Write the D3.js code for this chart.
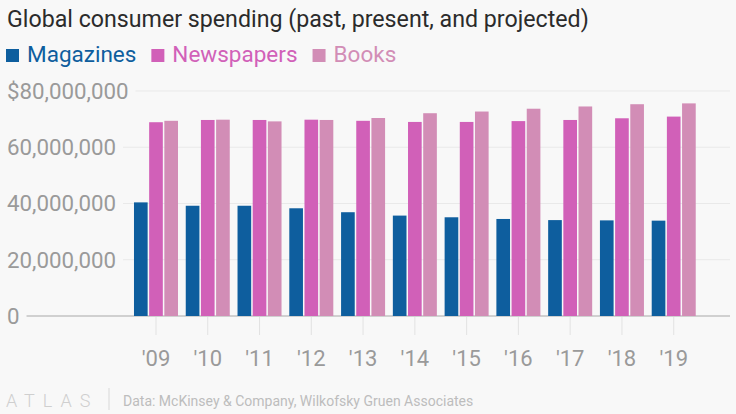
<!DOCTYPE html>
<html>
<head>
<meta charset="utf-8">
<script src="https://cdn.jsdelivr.net/npm/d3@7"></script>
<style>
  body { margin: 0; background: #f8f8f8; }
  svg { display: block; font-family: Roboto, "Liberation Sans", sans-serif; }
</style>
</head>
<body>
<div id="chart"></div>
<script>
// dados (milhões de dólares)
const years = ["'09", "'10", "'11", "'12", "'13", "'14", "'15", "'16", "'17", "'18", "'19"];
const seriesNames = ["Magazines", "Newspapers", "Books"];
const magazines = [40.4, 39.2, 39.2, 38.3, 36.9, 35.7, 35.1, 34.5, 34.1, 34.0, 33.9];
const newspapers = [68.9, 69.7, 69.7, 69.8, 69.4, 69.0, 69.0, 69.3, 69.7, 70.3, 70.9];
const books = [69.4, 69.8, 69.2, 69.7, 70.4, 72.1, 72.7, 73.7, 74.5, 75.3, 75.6];
const yTicks = [0, 20000000, 40000000, 60000000, 80000000];
const yTickLabels = ["0", "20,000,000", "40,000,000", "60,000,000", "$80,000,000"];

const colors = ["#0e5e9e", "#d160b8", "#d28db6"];
const width = 736, height = 414;

const rows = years.map((yr, i) => ({
    year: yr,
    values: [magazines[i], newspapers[i], books[i]].map(v => v * 1e6)
}));

const svg = d3.select("#chart")
    .append("svg")
    .attr("width", width)
    .attr("height", height);

// Título
svg.append("text")
    .attr("x", 7)
    .attr("y", 27)
    .style("font-size", "23.2px")
    .attr("fill", "#2b2b2b")
    .text("Global consumer spending (past, present, and projected)");

// Legenda
let lx = 6;
seriesNames.forEach((name, i) => {
    svg.append("rect")
        .attr("x", lx).attr("y", 49)
        .attr("width", 13).attr("height", 13)
        .attr("fill", colors[i]);
    const t = svg.append("text")
        .attr("x", lx + 21)
        .attr("y", 62)
        .style("font-size", "22.5px")
        .attr("fill", colors[i])
        .text(name);
    lx += 21 + t.node().getComputedTextLength() + 15;
});

// Escalas
const x = d3.scaleBand()
    .domain(years)
    .range([130.1, 699.6])
    .paddingInner(0.15)
    .paddingOuter(0.075);

const xSub = d3.scaleBand()
    .domain(seriesNames)
    .range([0, x.bandwidth()])
    .paddingInner(0.1);

const y = d3.scaleLinear()
    .domain([0, 80000000])
    .range([316, 91]);

// Grade e rótulos do eixo Y
yTicks.forEach((v, i) => {
    const lbl = svg.append("text")
        .attr("x", 7)
        .attr("y", y(v))
        .attr("dy", "0.35em")
        .style("font-size", "22.3px")
        .attr("fill", "#9a9a9a")
        .text(yTickLabels[i]);
    const w = lbl.node().getComputedTextLength();
    svg.insert("line", "text")
        .attr("x1", 7 + w + 7)
        .attr("x2", 730)
        .attr("y1", y(v)).attr("y2", y(v))
        .attr("stroke", v === 0 ? "#a8a8a8" : "#e9e9e9")
        .attr("stroke-width", v === 0 ? 1.2 : 1);
});

// Marcas do eixo X
svg.append("g")
    .selectAll("line")
    .data(years)
    .enter()
    .append("line")
    .attr("x1", d => x(d) + x.bandwidth() / 2)
    .attr("x2", d => x(d) + x.bandwidth() / 2)
    .attr("y1", 317).attr("y2", 335)
    .attr("stroke", "#e2e2e2");

svg.append("g")
    .selectAll("text")
    .data(years)
    .enter()
    .append("text")
    .attr("x", d => x(d) + x.bandwidth() / 2)
    .attr("y", 366)
    .attr("text-anchor", "middle")
    .style("font-size", "22px")
    .attr("fill", "#9a9a9a")
    .text(d => d);

// Barras
svg.append("g")
    .selectAll("g")
    .data(rows)
    .enter()
    .append("g")
    .attr("transform", d => `translate(${x(d.year)},0)`)
    .selectAll("rect")
    .data(d => d.values.map((v, i) => ({ name: seriesNames[i], value: v, i })))
    .enter()
    .append("rect")
    .attr("x", d => xSub(d.name))
    .attr("y", d => y(d.value))
    .attr("width", xSub.bandwidth())
    .attr("height", d => y(0) - y(d.value))
    .attr("fill", d => colors[d.i]);

// Rodapé
svg.append("text")
    .attr("x", 6)
    .attr("y", 407)
    .style("font-size", "18px")
    .style("font-weight", 300)
    .style("letter-spacing", "8px")
    .attr("fill", "#cfcfcf")
    .text("ATLAS");

svg.append("line")
    .attr("x1", 109).attr("x2", 109)
    .attr("y1", 388).attr("y2", 410)
    .attr("stroke", "#d8d8d8");

svg.append("text")
    .attr("x", 123)
    .attr("y", 406)
    .style("font-size", "14px")
    .attr("fill", "#bdbdbd")
    .text("Data: McKinsey & Company, Wilkofsky Gruen Associates");
</script>
</body>
</html>
